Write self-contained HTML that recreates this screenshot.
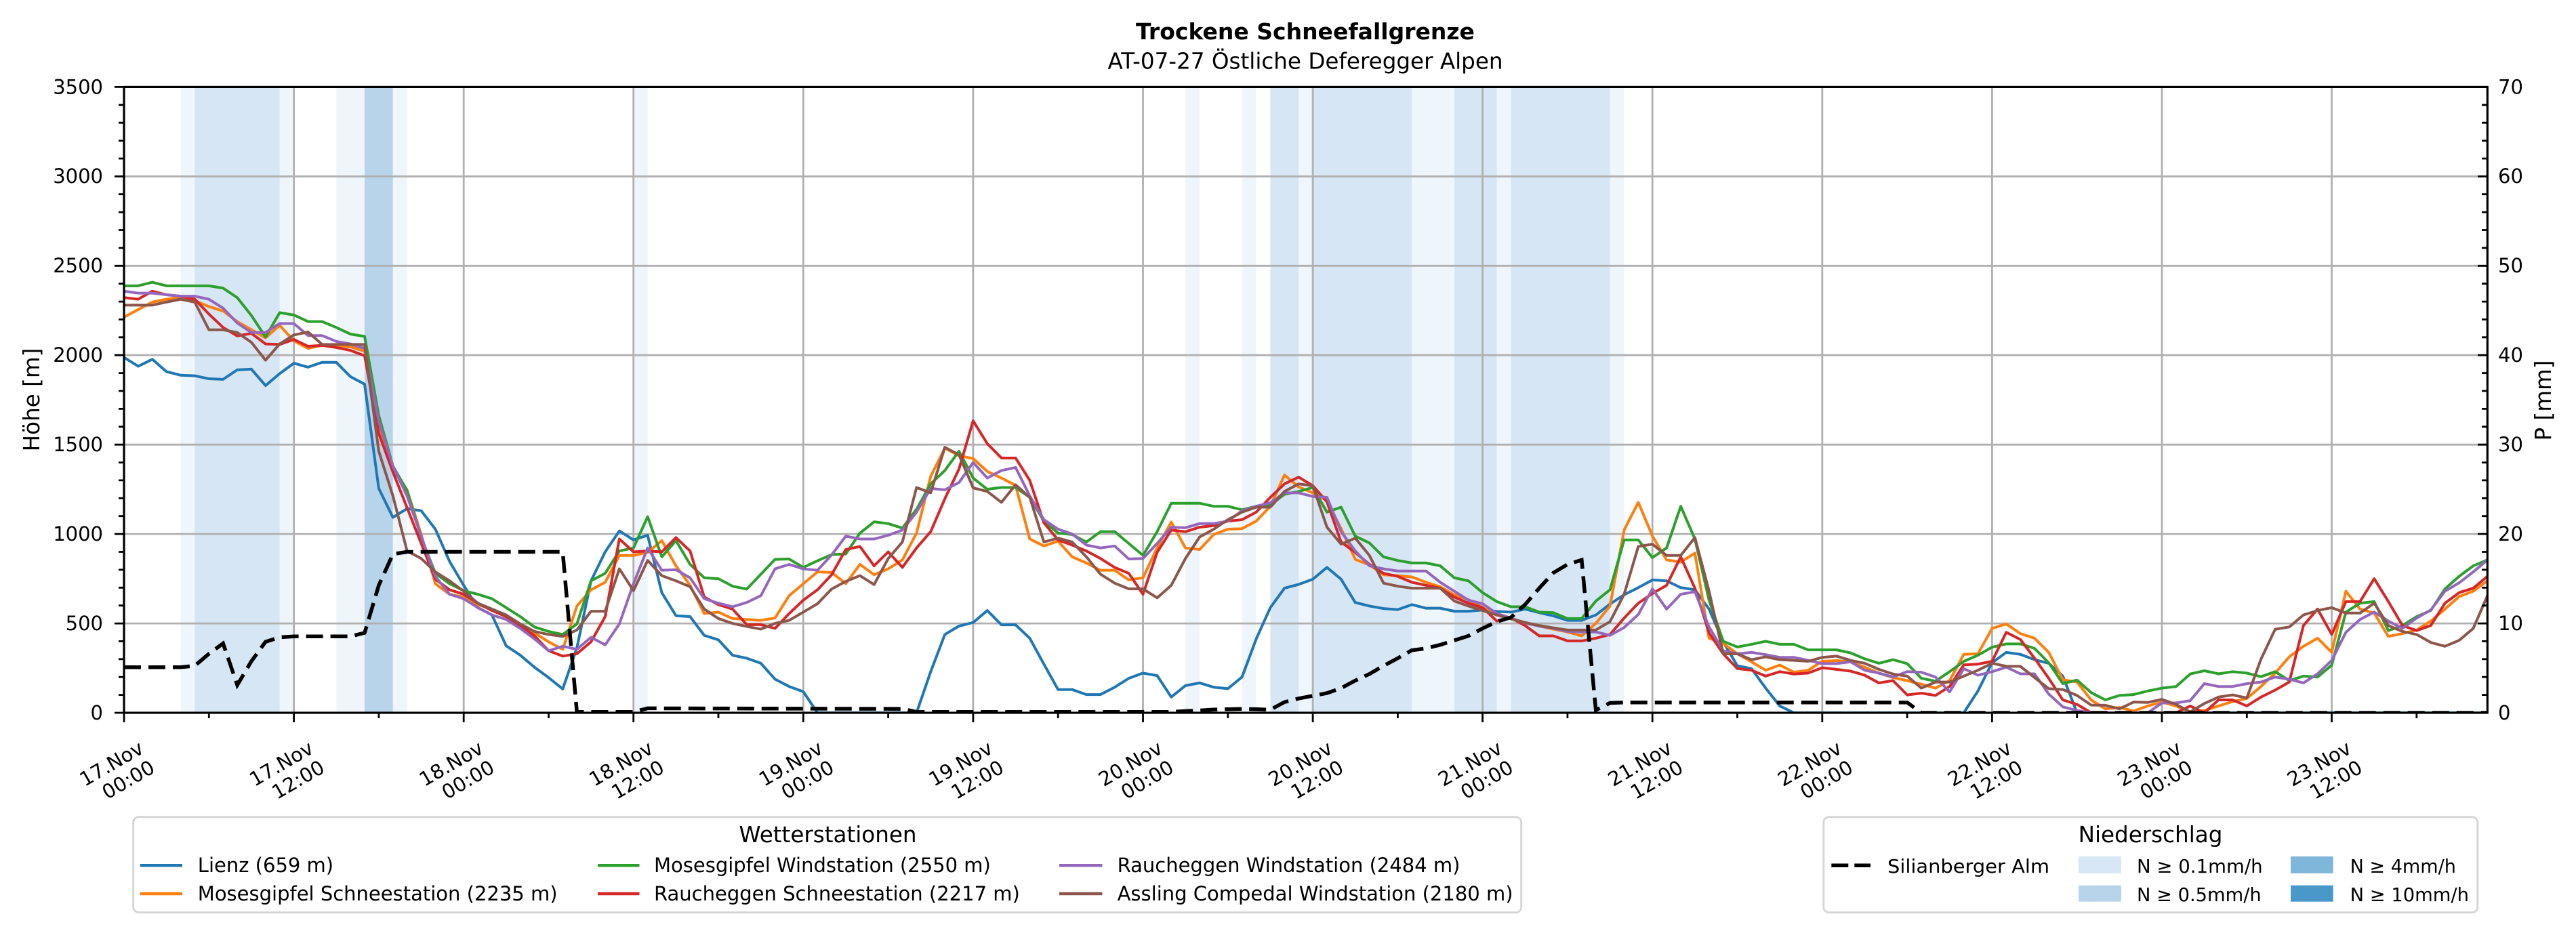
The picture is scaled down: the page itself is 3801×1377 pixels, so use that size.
<!DOCTYPE html>
<html><head><meta charset="utf-8"><style>
html,body{margin:0;padding:0;background:#fff;}
svg{display:block;font-family:"DejaVu Sans","Liberation Sans",sans-serif;}
.ln{fill:none;stroke-width:4;stroke-linejoin:round;vector-effect:non-scaling-stroke;}
</style></head><body>
<svg width="3801" height="1377" viewBox="0 0 3801 1377" xmlns="http://www.w3.org/2000/svg">
<defs><clipPath id="pc"><rect x="183" y="128.4" width="3487.3" height="923.6"/></clipPath></defs>
<rect width="3801" height="1377" fill="#fff"/>
<!-- bands -->
<g clip-path="url(#pc)">
<g transform="matrix(20.882 0 0 -0.263886 183 1052)">
<g fill="#eef5fb">
<rect x="4" y="0" width="1" height="3500"/><rect x="11" y="0" width="1" height="3500"/><rect x="15" y="0" width="2" height="3500"/><rect x="19" y="0" width="1" height="3500"/><rect x="36" y="0" width="1" height="3500"/><rect x="75" y="0" width="1" height="3500"/><rect x="79" y="0" width="1" height="3500"/><rect x="83" y="0" width="1" height="3500"/><rect x="91" y="0" width="3" height="3500"/><rect x="97" y="0" width="1" height="3500"/><rect x="105" y="0" width="1" height="3500"/>
</g>
<g fill="#d7e6f4">
<rect x="5" y="0" width="6" height="3500"/><rect x="81" y="0" width="2" height="3500"/><rect x="84" y="0" width="7" height="3500"/><rect x="94" y="0" width="3" height="3500"/><rect x="98" y="0" width="7" height="3500"/>
</g>
<rect x="17" y="0" width="2" height="3500" fill="#b7d4ea"/>
</g>
<!-- grid -->
<g stroke="#b0b0b0" stroke-width="2.8">
<path d="M433.6 128.4V1052M684.2 128.4V1052M934.7 128.4V1052M1185.3 128.4V1052M1435.9 128.4V1052M1686.5 128.4V1052M1937.1 128.4V1052M2187.6 128.4V1052M2438.2 128.4V1052M2688.8 128.4V1052M2939.4 128.4V1052M3190 128.4V1052M3440.5 128.4V1052"/>
<path d="M183 920.1H3670M183 788.1H3670M183 656.2H3670M183 524.2H3670M183 392.3H3670M183 260.3H3670"/>
</g>
<g transform="matrix(20.882 0 0 -0.263886 183 1052)">
<polyline class="ln" stroke="#1f77b4" points="0,1988 1,1938 2,1977 3,1908 4,1888 5,1885 6,1868 7,1865 8,1918 9,1922 10,1830 11,1897 12,1955 13,1933 14,1960 15,1960 16,1880 17,1838 18,1255 19,1093 20,1142 21,1130 22,1027 23,847 24,713 25,588 26,547 27,375 28,322 29,255 30,197 31,133 32,363 33,738 34,900 35,1017 36,967 37,993 38,672 39,543 40,538 41,433 42,408 43,322 44,305 45,277 46,188 47,147 48,118 49,0 56,0 57,230 58,438 59,485 60,505 61,572 62,492 63,492 64,417 65,272 66,130 67,130 68,102 69,102 70,143 71,193 72,222 73,208 74,88 75,152 76,167 77,143 78,135 79,200 80,413 81,588 82,697 83,718 84,747 85,813 86,747 87,617 88,597 89,583 90,577 91,605 92,585 93,585 94,568 95,568 96,575 97,567 98,563 99,580 100,560 101,542 102,517 103,517 104,547 105,608 106,660 107,700 108,743 109,738 110,700 111,688 112,580 113,397 114,263 115,247 116,138 117,38 118,0 130,0 131,122 132,280 133,338 134,327 135,297 136,277 137,205 138,0 167,0"/>
<polyline class="ln" stroke="#ff7f0e" points="0,2213 1,2255 2,2297 3,2313 4,2322 5,2305 6,2272 7,2247 8,2188 9,2143 10,2097 11,2167 12,2080 13,2038 14,2055 15,2055 16,2047 17,2022 18,1597 19,1363 20,1247 21,997 22,722 23,663 24,647 25,605 26,580 27,538 28,497 29,447 30,397 31,355 32,597 33,688 34,730 35,880 36,880 37,897 38,963 39,822 40,713 41,555 42,563 43,527 44,522 45,517 46,530 47,655 48,722 49,788 50,785 51,722 52,830 53,772 54,805 55,855 56,1005 57,1322 58,1480 59,1438 60,1422 61,1350 62,1313 63,1272 64,972 65,933 66,960 67,872 68,838 69,797 70,797 71,743 72,755 73,922 74,1067 75,922 76,913 77,997 78,1027 79,1030 80,1072 81,1155 82,1330 83,1263 84,1230 85,1188 86,1030 87,858 88,827 89,772 90,767 91,760 92,730 93,705 94,660 95,633 96,588 97,547 98,527 99,505 100,485 101,468 102,452 103,430 104,500 105,597 106,1022 107,1177 108,988 109,855 110,843 111,893 112,417 113,388 114,330 115,285 116,238 117,267 118,227 119,238 120,288 121,292 122,285 123,255 124,222 125,197 126,180 127,160 128,138 129,180 130,327 131,330 132,472 133,497 134,443 135,417 136,338 137,185 138,172 139,72 140,22 141,30 142,10 143,38 144,60 145,38 146,5 147,13 148,38 149,63 150,80 151,147 152,222 153,313 154,372 155,417 156,338 157,680 158,580 159,558 160,427 161,443 162,463 163,513 164,580 165,650 166,680 167,738"/>
<polyline class="ln" stroke="#2ca02c" points="0,2388 1,2388 2,2408 3,2388 4,2388 5,2388 6,2388 7,2375 8,2322 9,2222 10,2102 11,2238 12,2225 13,2188 14,2188 15,2155 16,2118 17,2105 18,1663 19,1380 20,1242 21,980 22,780 23,722 24,683 25,663 26,638 27,588 28,538 29,480 30,455 31,438 32,497 33,738 34,780 35,905 36,922 37,1097 38,872 39,963 40,830 41,755 42,750 43,708 44,692 45,775 46,858 47,860 48,813 49,850 50,885 51,888 52,1005 53,1068 54,1058 55,1033 56,1138 57,1280 58,1355 59,1463 60,1313 61,1250 62,1260 63,1260 64,1205 65,1072 66,1005 67,997 68,955 69,1013 70,1013 71,947 72,880 73,1013 74,1172 75,1172 76,1172 77,1155 78,1155 79,1135 80,1155 81,1163 82,1222 83,1238 84,1260 85,1122 86,1150 87,988 88,950 89,872 90,852 91,838 92,838 93,822 94,755 95,738 96,672 97,622 98,593 99,593 100,563 101,560 102,527 103,527 104,625 105,688 106,967 107,967 108,868 109,922 110,1155 111,972 112,630 113,400 114,368 115,383 116,400 117,383 118,383 119,352 120,352 121,352 122,335 123,302 124,277 125,297 126,275 127,193 128,177 129,230 130,288 131,322 132,367 133,385 134,385 135,360 136,280 137,163 138,183 139,113 140,72 141,97 142,102 143,122 144,138 145,147 146,217 147,235 148,218 149,230 150,222 151,202 152,230 153,180 154,205 155,200 156,267 157,563 158,613 159,622 160,460 161,488 162,538 163,572 164,693 165,763 166,822 167,855"/>
<polyline class="ln" stroke="#d62728" points="0,2322 1,2313 2,2358 3,2338 4,2330 5,2313 6,2230 7,2155 8,2108 9,2122 10,2063 11,2060 12,2088 13,2050 14,2055 15,2043 16,2027 17,1997 18,1563 19,1347 20,1147 21,947 22,747 23,688 24,663 25,613 26,572 27,538 28,488 29,430 30,347 31,317 32,330 33,397 34,538 35,972 36,900 37,905 38,900 39,980 40,905 41,647 42,605 43,580 44,493 45,493 46,472 47,555 48,630 49,688 50,772 51,913 52,930 53,822 54,900 55,813 56,922 57,1013 58,1197 59,1363 60,1633 61,1505 62,1425 63,1425 64,1300 65,1063 66,967 67,938 68,905 69,863 70,813 71,780 72,663 73,897 74,1022 75,1013 76,1038 77,1047 78,1072 79,1080 80,1122 81,1205 82,1280 83,1318 84,1270 85,1180 86,955 87,897 88,830 89,780 90,763 91,730 92,713 93,697 94,647 95,613 96,588 97,513 98,530 99,488 100,430 101,430 102,402 103,402 104,417 105,438 106,530 107,613 108,667 109,713 110,872 111,697 112,447 113,330 114,247 115,238 116,205 117,230 118,217 119,222 120,252 121,243 122,233 123,210 124,167 125,180 126,100 127,110 128,97 129,147 130,268 131,272 132,288 133,450 134,410 135,305 136,193 137,72 138,47 139,0 145,0 146,38 147,0 148,72 149,72 150,38 151,88 152,127 153,172 154,488 155,580 156,438 157,622 158,622 159,750 160,622 161,488 162,460 163,488 164,613 165,672 166,697 167,763"/>
<polyline class="ln" stroke="#9467bd" points="0,2358 1,2347 2,2347 3,2338 4,2330 5,2330 6,2313 7,2263 8,2180 9,2127 10,2127 11,2177 12,2177 13,2110 14,2110 15,2077 16,2063 17,2038 18,1630 19,1380 20,1213 21,988 22,763 23,663 24,638 25,588 26,547 27,522 28,472 29,413 30,347 31,372 32,355 33,422 34,380 35,497 36,722 37,922 38,797 39,800 40,755 41,638 42,613 43,593 44,617 45,655 46,805 47,830 48,805 49,797 50,883 51,988 52,972 53,972 54,993 55,1022 56,1122 57,1255 58,1247 59,1288 60,1400 61,1313 62,1355 63,1372 64,1213 65,1080 66,1027 67,1000 68,938 69,922 70,933 71,860 72,863 73,947 74,1038 75,1035 76,1058 77,1058 78,1072 79,1130 80,1155 81,1175 82,1230 83,1230 84,1210 85,1205 86,1013 87,905 88,822 89,805 90,793 91,793 92,793 93,730 94,680 95,630 96,610 97,555 98,530 99,502 100,485 101,472 102,455 103,452 104,452 105,433 106,477 107,550 108,693 109,580 110,663 111,677 112,480 113,347 114,330 115,338 116,325 117,310 118,310 119,293 120,275 121,275 122,285 123,238 124,222 125,200 126,230 127,227 128,200 129,117 130,247 131,210 132,230 133,255 134,218 135,218 136,105 137,33 138,13 139,0 143,0 144,55 145,55 146,68 147,163 148,147 149,147 150,163 151,172 152,200 153,188 154,167 155,218 156,293 157,450 158,522 159,563 160,513 161,472 162,530 163,575 164,680 165,727 166,788 167,855"/>
<polyline class="ln" stroke="#8c564b" points="0,2280 1,2280 2,2280 3,2297 4,2313 5,2297 6,2142 7,2142 8,2127 9,2072 10,1972 11,2063 12,2113 13,2130 14,2060 15,2060 16,2060 17,2060 18,1463 19,1213 20,905 21,863 22,788 23,738 24,680 25,613 26,580 27,547 28,497 29,455 30,438 31,427 32,463 33,568 34,568 35,805 36,683 37,852 38,767 39,738 40,705 41,580 42,527 43,500 44,483 45,468 46,500 47,517 48,563 49,610 50,692 51,735 52,767 53,717 54,863 55,955 56,1260 57,1230 58,1485 59,1443 60,1258 61,1238 62,1177 63,1275 64,1205 65,955 66,977 67,955 68,872 69,775 70,725 71,693 72,693 73,643 74,713 75,863 76,983 77,1027 78,1080 79,1122 80,1150 81,1150 82,1238 83,1280 84,1270 85,1038 86,943 87,977 88,880 89,725 90,708 91,697 92,697 93,697 94,625 95,597 96,572 97,547 98,525 99,505 100,488 101,475 102,463 103,463 104,463 105,510 106,663 107,930 108,943 109,880 110,880 111,980 112,680 113,330 114,330 115,297 116,313 117,297 118,293 119,288 120,310 121,317 122,293 123,277 124,243 125,217 126,205 127,138 128,172 129,172 130,205 131,238 132,277 133,260 134,260 135,197 136,135 137,130 138,97 139,43 140,42 141,22 142,60 143,58 144,75 145,47 146,5 147,52 148,88 149,100 150,83 151,300 152,467 153,480 154,547 155,572 156,588 157,558 158,558 159,613 160,488 161,455 162,438 163,393 164,372 165,405 166,472 167,655"/>
</g>
<polyline fill="none" stroke="#000" stroke-width="5.5" stroke-dasharray="25 11" points="183,984.7 266.5,984.7 287.4,982.6 308.3,964.9 329.2,949.6 350.1,1011.1 370.9,976.0 391.8,947.2 412.7,940.6 433.6,939.3 517.1,939.3 538.0,934.0 558.9,863.9 579.8,817.7 600.6,814.5 830.3,814.5 851.2,1050.7 934.8,1050.7 955.6,1045.4 1331.5,1046.2 1352.4,1050.7 1728.3,1050.7 1749.2,1049.4 1770.0,1048.6 1790.9,1047.2 1811.8,1046.7 1832.7,1046.2 1853.6,1046.7 1874.4,1047.5 1895.3,1036.2 1916.2,1030.9 1937.1,1026.9 1958.0,1023.0 1978.9,1015.6 1999.7,1004.5 2020.6,994.7 2041.5,982.6 2062.4,971.5 2083.3,959.6 2104.1,957.0 2125.0,951.7 2145.9,945.1 2166.8,938.5 2187.7,927.4 2208.6,917.4 2229.4,911.3 2250.3,892.3 2271.2,868.1 2292.1,845.4 2313.0,833.0 2333.8,826.4 2354.7,1048.0 2375.6,1037.5 2396.5,1036.7 2814.1,1036.7 2835.0,1052 3670.3,1052"/>
</g>
<!-- spines and ticks -->
<rect x="183" y="128.4" width="3487.3" height="923.6" fill="none" stroke="#000" stroke-width="3.2"/>
<g stroke="#000" stroke-width="2.8">
<path d="M169 1052H183M169 920.1H183M169 788.1H183M169 656.2H183M169 524.2H183M169 392.3H183M169 260.3H183M169 128.4H183"/>
<path d="M175 1025.6H183M175 999.2H183M175 972.8H183M175 946.4H183M175 893.7H183M175 867.3H183M175 840.9H183M175 814.5H183M175 761.7H183M175 735.3H183M175 708.9H183M175 682.6H183M175 629.8H183M175 603.4H183M175 577H183M175 550.6H183M175 497.8H183M175 471.5H183M175 445.1H183M175 418.7H183M175 365.9H183M175 339.5H183M175 313.1H183M175 286.7H183M175 234H183M175 207.6H183M175 181.2H183M175 154.8H183"/>
<path d="M3656 920.1H3670M3656 788.1H3670M3656 656.2H3670M3656 524.2H3670M3656 392.3H3670M3656 260.3H3670"/>
<path d="M3662 1025.6H3670M3662 999.2H3670M3662 972.8H3670M3662 946.4H3670M3662 893.7H3670M3662 867.3H3670M3662 840.9H3670M3662 814.5H3670M3662 761.7H3670M3662 735.3H3670M3662 708.9H3670M3662 682.6H3670M3662 629.8H3670M3662 603.4H3670M3662 577H3670M3662 550.6H3670M3662 497.8H3670M3662 471.5H3670M3662 445.1H3670M3662 418.7H3670M3662 365.9H3670M3662 339.5H3670M3662 313.1H3670M3662 286.7H3670M3662 234H3670M3662 207.6H3670M3662 181.2H3670M3662 154.8H3670"/>
<path d="M183 1052V1066M433.6 1052V1066M684.2 1052V1066M934.7 1052V1066M1185.3 1052V1066M1435.9 1052V1066M1686.5 1052V1066M1937.1 1052V1066M2187.6 1052V1066M2438.2 1052V1066M2688.8 1052V1066M2939.4 1052V1066M3190 1052V1066M3440.5 1052V1066"/>
<path d="M308.3 1052V1060M558.9 1052V1060M809.5 1052V1060M1060 1052V1060M1310.6 1052V1060M1561.2 1052V1060M1811.8 1052V1060M2062.4 1052V1060M2312.9 1052V1060M2563.5 1052V1060M2814.1 1052V1060M3064.7 1052V1060M3315.3 1052V1060M3565.8 1052V1060"/>
</g>
<!-- titles -->
<text x="1926" y="58" text-anchor="middle" font-size="33" font-weight="bold">Trockene Schneefallgrenze</text>
<text x="1926" y="101.5" text-anchor="middle" font-size="32.6">AT-07-27 Östliche Deferegger Alpen</text>
<!-- y tick labels -->
<g font-size="29" text-anchor="end">
<text x="152" y="1062">0</text><text x="152" y="930">500</text><text x="152" y="798">1000</text><text x="152" y="666">1500</text><text x="152" y="534">2000</text><text x="152" y="402">2500</text><text x="152" y="270">3000</text><text x="152" y="138.5">3500</text>
</g>
<g font-size="29" text-anchor="start">
<text x="3686" y="1062">0</text><text x="3686" y="930">10</text><text x="3686" y="798">20</text><text x="3686" y="666">30</text><text x="3686" y="534">40</text><text x="3686" y="402">50</text><text x="3686" y="270">60</text><text x="3686" y="138.5">70</text>
</g>
<text transform="translate(58,590) rotate(-90)" text-anchor="middle" font-size="32.6">Höhe [m]</text>
<text transform="translate(3764,591) rotate(-90)" text-anchor="middle" font-size="32.6">P [mm]</text>
<!-- x tick labels -->
<g font-size="29" text-anchor="end">
<text transform="translate(214,1110) rotate(-30)"><tspan x="0" y="0">17.Nov</tspan><tspan x="0" y="33">00:00</tspan></text>
<text transform="translate(464.6,1110) rotate(-30)"><tspan x="0" y="0">17.Nov</tspan><tspan x="0" y="33">12:00</tspan></text>
<text transform="translate(715.2,1110) rotate(-30)"><tspan x="0" y="0">18.Nov</tspan><tspan x="0" y="33">00:00</tspan></text>
<text transform="translate(965.7,1110) rotate(-30)"><tspan x="0" y="0">18.Nov</tspan><tspan x="0" y="33">12:00</tspan></text>
<text transform="translate(1216.3,1110) rotate(-30)"><tspan x="0" y="0">19.Nov</tspan><tspan x="0" y="33">00:00</tspan></text>
<text transform="translate(1466.9,1110) rotate(-30)"><tspan x="0" y="0">19.Nov</tspan><tspan x="0" y="33">12:00</tspan></text>
<text transform="translate(1717.5,1110) rotate(-30)"><tspan x="0" y="0">20.Nov</tspan><tspan x="0" y="33">00:00</tspan></text>
<text transform="translate(1968.1,1110) rotate(-30)"><tspan x="0" y="0">20.Nov</tspan><tspan x="0" y="33">12:00</tspan></text>
<text transform="translate(2218.6,1110) rotate(-30)"><tspan x="0" y="0">21.Nov</tspan><tspan x="0" y="33">00:00</tspan></text>
<text transform="translate(2469.2,1110) rotate(-30)"><tspan x="0" y="0">21.Nov</tspan><tspan x="0" y="33">12:00</tspan></text>
<text transform="translate(2719.8,1110) rotate(-30)"><tspan x="0" y="0">22.Nov</tspan><tspan x="0" y="33">00:00</tspan></text>
<text transform="translate(2970.4,1110) rotate(-30)"><tspan x="0" y="0">22.Nov</tspan><tspan x="0" y="33">12:00</tspan></text>
<text transform="translate(3221,1110) rotate(-30)"><tspan x="0" y="0">23.Nov</tspan><tspan x="0" y="33">00:00</tspan></text>
<text transform="translate(3471.5,1110) rotate(-30)"><tspan x="0" y="0">23.Nov</tspan><tspan x="0" y="33">12:00</tspan></text>
</g>
<!-- legend 1 -->
<rect x="196.7" y="1205.7" width="2048" height="141" rx="8" fill="#fff" stroke="#d6d6d6" stroke-width="3"/>
<text x="1221.5" y="1243" text-anchor="middle" font-size="32.6">Wetterstationen</text>
<g stroke-width="4.5">
<path d="M206.7 1277.3H269" stroke="#1f77b4"/>
<path d="M206.7 1319H269" stroke="#ff7f0e"/>
<path d="M882 1277.3H943.5" stroke="#2ca02c"/>
<path d="M882 1319H943.5" stroke="#d62728"/>
<path d="M1563 1277.3H1626.5" stroke="#9467bd"/>
<path d="M1563 1319H1626.5" stroke="#8c564b"/>
</g>
<g font-size="29">
<text x="291.8" y="1287">Lienz (659 m)</text>
<text x="291.8" y="1329">Mosesgipfel Schneestation (2235 m)</text>
<text x="965" y="1287">Mosesgipfel Windstation (2550 m)</text>
<text x="965" y="1329">Raucheggen Schneestation (2217 m)</text>
<text x="1648.6" y="1287">Raucheggen Windstation (2484 m)</text>
<text x="1648.6" y="1329">Assling Compedal Windstation (2180 m)</text>
</g>
<!-- legend 2 -->
<rect x="2690.8" y="1205.7" width="965" height="141" rx="8" fill="#fff" stroke="#d6d6d6" stroke-width="3"/>
<text x="3173" y="1243" text-anchor="middle" font-size="32.6">Niederschlag</text>
<path d="M2702.3 1277.3H2760" stroke="#000" stroke-width="5.5" stroke-dasharray="25 9"/>
<rect x="3067" y="1264" width="63" height="25" fill="#d8e7f5"/>
<rect x="3067" y="1306.7" width="63" height="24" fill="#b7d4ea"/>
<rect x="3380" y="1264" width="62.7" height="25" fill="#7fb7da"/>
<rect x="3380" y="1306.7" width="62.7" height="24" fill="#4a98c9"/>
<g font-size="27.5">
<text x="2785" y="1288" textLength="239" lengthAdjust="spacingAndGlyphs">Silianberger Alm</text>
<text x="3153" y="1288" textLength="185.6" lengthAdjust="spacingAndGlyphs">N ≥ 0.1mm/h</text>
<text x="3153" y="1330" textLength="183.7" lengthAdjust="spacingAndGlyphs">N ≥ 0.5mm/h</text>
<text x="3467.6" y="1288" textLength="156.3" lengthAdjust="spacingAndGlyphs">N ≥ 4mm/h</text>
<text x="3467.6" y="1330" textLength="175.4" lengthAdjust="spacingAndGlyphs">N ≥ 10mm/h</text>
</g>
</svg>
</body></html>
